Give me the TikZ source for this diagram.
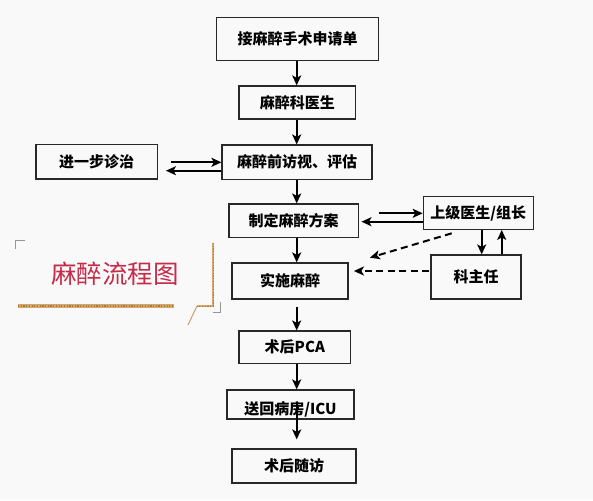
\documentclass[tikz,border=0pt]{standalone}
\usepackage{fontspec}
\newfontfamily\cjk{Noto Sans CJK SC}
\usetikzlibrary{arrows.meta,calc}
\definecolor{bg}{RGB}{249,249,250}
\definecolor{edge}{RGB}{40,40,40}
\definecolor{titlered}{RGB}{196,44,74}
\definecolor{tanc}{RGB}{214,167,108}
\definecolor{tandark}{RGB}{165,120,75}
\definecolor{markgray}{RGB}{150,150,150}
\begin{document}
\begin{tikzpicture}[x=1pt,y=-1pt,
  box/.style={draw=edge,line width=1.2pt,inner sep=0pt,font=\cjk\bfseries\fontsize{15}{18}\selectfont,text=black},
  arr/.style={line width=2pt,-{Stealth[length=10pt,width=9pt,inset=2.5pt]}},
  darr/.style={arr,dash pattern=on 7pt off 4.5pt},
  txt/.style={inner sep=0pt,font=\cjk\bfseries\fontsize{15}{18}\selectfont,text=black},
]
\useasboundingbox (0,0) rectangle (593,500);
\fill[bg] (0,0) rectangle (593,500);

% boxes
\node[box,minimum width=161.6pt,minimum height=43.4pt] (b1) at (297.5,39) {接麻醉手术申请单};
\node[box,minimum width=116.7pt,minimum height=33pt] (b2) at (297.3,102.5) {麻醉科医生};
\node[box,minimum width=150pt,minimum height=34.3pt] (b3) at (297,162.2) {麻醉前访视、评估};
\node[box,minimum width=121.3pt,minimum height=34.7pt] (bl) at (96.7,161.7) {进一步诊治};
\node[box,minimum width=129.3pt,minimum height=33.3pt] (b4) at (293.7,220.7) {制定麻醉方案};
\node[box,minimum width=110pt,minimum height=32.6pt] (br) at (478.3,213) {上级医生/组长};
\node[box,minimum width=90pt,minimum height=44pt] (bk) at (476,277) {科主任};
\node[box,minimum width=116pt,minimum height=36pt] (b5) at (290,281) {实施麻醉};
\node[box,minimum width=111.7pt,minimum height=32.3pt] (b6) at (294.8,347.2) {术后PCA};
\node[box,minimum width=127pt,minimum height=29pt] (b7) at (290.5,404.5) {};
\node[txt] (t7) at ($(b7.center)+(0,5)$) {送回病房/ICU};
\node[box,minimum width=124pt,minimum height=34pt] (b8) at (294,466) {术后随访};

% central arrows
\coordinate (ax) at (296.7,0);
\draw[arr] (b1.south -| ax) -- (b2.north -| ax);
\draw[arr] (b2.south -| ax) -- (b3.north -| ax);
\draw[arr] (b3.south -| ax) -- (b4.north -| ax);
\draw[arr] (b4.south -| ax) -- (b5.north -| ax);
\draw[arr] ($(b5.south -| ax)+(0,7)$) -- (b6.north -| ax);
\draw[arr] (b6.south -| ax) -- (b7.north -| ax);
\draw[arr] ($(b7.north -| ax)+(0,13)$) -- ($(b8.north -| ax)+(0,-9)$);

% left pair
\coordinate (ly1) at (0,162.3);
\coordinate (ly2) at (0,170.7);
\draw[arr] ($(bl.east |- ly1)+(13,0)$) -- (b3.west |- ly1);
\draw[arr] (b3.west |- ly2) -- ($(bl.east |- ly2)+(8,0)$);

% right pair
\coordinate (ry1) at (0,213.3);
\coordinate (ry2) at (0,221.7);
\draw[arr] ($(b4.east |- ry1)+(20,0)$) -- (br.west |- ry1);
\draw[arr] (br.west |- ry2) -- ($(b4.east |- ry2)+(2.5,0)$);

% vertical pair
\coordinate (vx1) at (481.7,0);
\coordinate (vx2) at (501.7,0);
\draw[arr] (br.south -| vx1) -- (bk.north -| vx1);
\draw[arr] (bk.north -| vx2) -- (br.south -| vx2);

% dashed
\draw[darr] ($(br.south)+(-26.6,3.4)$) -- ($(b5.north east)+(21.3,-4.7)$);
\draw[darr] ($(bk.west)+(-1,-6)$) -- ($(b5.east)+(5.3,-10)$);

% title
\node[inner sep=0pt,font=\cjk\fontsize{25.5}{30}\selectfont,text=titlered] (title) at (115,273.5) {麻醉流程图};
\draw[markgray,line width=0.8pt] (15.7,249) -- (15.7,240) -- (25,240);
\draw[markgray,line width=0.8pt] (220,302) -- (220,312) -- (213,312);
\draw[tanc,line width=3.2pt] (18,306) -- (174,306);
\draw[tandark,line width=1.2pt,dash pattern=on 1.2pt off 1.5pt] (18,306) -- (174,306);
\draw[tanc,line width=2.8pt] (213,243) -- (213,306) -- (197,306);
\draw[tandark,line width=1pt,dash pattern=on 1.2pt off 1.5pt] (213,243) -- (213,306) -- (197,306);
\draw[tanc!80!gray,line width=1pt] (197,306) -- (188,325);
\end{tikzpicture}
\end{document}
